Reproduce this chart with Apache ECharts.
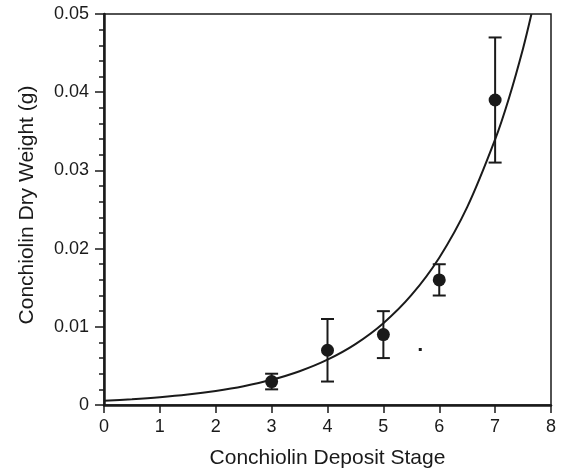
<!DOCTYPE html>
<html>
<head>
<meta charset="utf-8">
<script src="https://cdn.jsdelivr.net/npm/echarts@6/dist/echarts.min.js"></script>
<style>html,body{margin:0;padding:0;background:#fff;}#c{width:563px;height:472px;}</style>
</head>
<body>
<div id="c"></div>
<script>
// Observed data (stage, mean dry weight, lower, upper)
var stages = [3, 4, 5, 6, 7];
var means = [0.003, 0.007, 0.009, 0.016, 0.039];
var lows = [0.002, 0.003, 0.006, 0.014, 0.031];
var highs = [0.004, 0.011, 0.012, 0.018, 0.047];
// Fitted curve
var curveX = [0, 0.5, 1, 1.5, 2, 2.5, 3, 3.5, 4, 4.5, 5, 5.5, 6, 6.5, 7, 7.25, 7.5, 7.65];
var curveY = [0.00055, 0.00074, 0.00099, 0.00133, 0.00179, 0.0024, 0.00322, 0.00432, 0.0058, 0.00779, 0.01046, 0.01404, 0.01884, 0.0253, 0.03396, 0.0393, 0.0456, 0.05];
// Stray dot in the figure
var strayX = [5.66];
var strayY = [0.0071];

var xTicks = [0, 1, 2, 3, 4, 5, 6, 7, 8];
var yTicks = [0, 0.01, 0.02, 0.03, 0.04, 0.05];

var ink = '#1a1a1a';
var font = 'Liberation Sans, Arial, Helvetica, sans-serif';

var chart = echarts.init(document.getElementById('c'), null, {renderer: 'canvas'});
var scatterData = stages.map(function (s, i) { return [s, means[i]]; });
var errData = stages.map(function (s, i) { return [s, lows[i], highs[i]]; });
var curveData = curveX.map(function (x, i) { return [x, curveY[i]]; });
var strayData = strayX.map(function (x, i) { return [x, strayY[i]]; });

chart.setOption({
  animation: false,
  backgroundColor: '#fff',
  grid: {left: 104, right: 12, top: 14, bottom: 67, show: true, borderColor: ink, borderWidth: 1.5,
    backgroundColor: 'transparent', containLabel: false, outerBoundsMode: 'none'},
  xAxis: {
    type: 'value', min: xTicks[0], max: xTicks[xTicks.length - 1], interval: 1,
    name: 'Conchiolin Deposit Stage', nameLocation: 'middle', nameGap: 43,
    nameTextStyle: {fontFamily: font, fontSize: 21, color: ink},
    axisLine: {show: true, onZero: false, lineStyle: {color: ink, width: 2.5}},
    axisTick: {show: true, length: 8, lineStyle: {color: ink, width: 1.5}},
    axisLabel: {fontFamily: font, fontSize: 18, color: ink, margin: 13},
    splitLine: {show: false}
  },
  yAxis: {
    type: 'value', min: yTicks[0], max: yTicks[yTicks.length - 1], interval: 0.01,
    name: 'Conchiolin Dry Weight (g)', nameLocation: 'middle', nameGap: 66,
    nameTextStyle: {fontFamily: font, fontSize: 21, color: ink, padding: [0, 0, 0, 9]},
    axisLine: {show: true, onZero: false, lineStyle: {color: ink, width: 2.5}},
    axisTick: {show: true, length: 9, lineStyle: {color: ink, width: 1.5}},
    minorTick: {show: true, splitNumber: 5, length: 5, lineStyle: {color: ink, width: 1.5}},
    axisLabel: {fontFamily: font, fontSize: 18, color: ink, margin: 15,
      formatter: function (v) { return v === 0 ? '0' : v.toFixed(2); }},
    splitLine: {show: false}
  },
  series: [
    {
      type: 'line', data: curveData, smooth: 0.3, symbol: 'none',
      lineStyle: {color: ink, width: 2}, clip: true, z: 2
    },
    {
      type: 'custom', data: errData, z: 3,
      renderItem: function (params, api) {
        var x = api.value(0);
        var lo = api.coord([x, api.value(1)]);
        var hi = api.coord([x, api.value(2)]);
        var hw = 6.5;
        var st = {stroke: ink, lineWidth: 2};
        return {type: 'group', children: [
          {type: 'line', shape: {x1: lo[0], y1: lo[1], x2: hi[0], y2: hi[1]}, style: st},
          {type: 'line', shape: {x1: lo[0] - hw, y1: lo[1], x2: lo[0] + hw, y2: lo[1]}, style: st},
          {type: 'line', shape: {x1: hi[0] - hw, y1: hi[1], x2: hi[0] + hw, y2: hi[1]}, style: st}
        ]};
      }
    },
    {
      type: 'scatter', data: scatterData, symbol: 'circle', symbolSize: 13,
      itemStyle: {color: ink, opacity: 1}, z: 4
    },
    {
      type: 'scatter', data: strayData, symbol: 'rect', symbolSize: 3,
      itemStyle: {color: ink, opacity: 1}, z: 4
    }
  ]
});
</script>
</body>
</html>
